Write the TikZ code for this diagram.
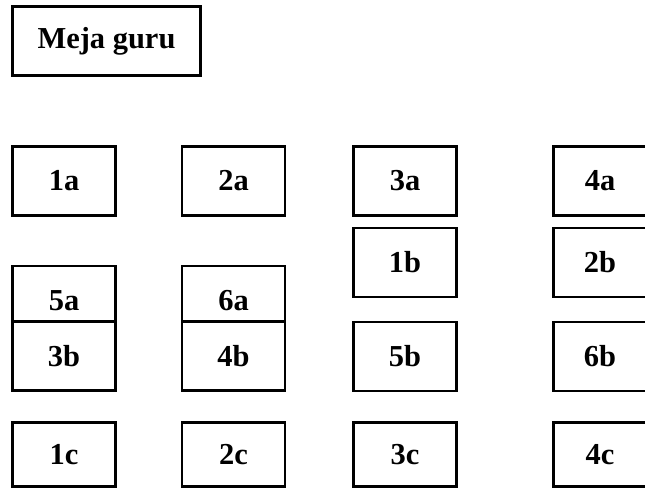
\documentclass[tikz,border=0pt]{standalone}
\usepackage{fontspec}
\setmainfont{Liberation Serif}

\begin{document}
\begin{tikzpicture}[x=0.03cm,y=-0.03cm]
	\tikzset{% This is the style settings for the desks
		mejanode/.style={rectangle,draw=black,fill=white,line width=2.55pt,minimum width=3.09cm,minimum height=2.07cm,inner sep=0pt,font=\fontsize{26}{30}\selectfont\bfseries},
		gurunode/.style={mejanode,minimum width=5.64cm},
		edgenode/.style={mejanode,minimum width=2.79cm},
		lastnode/.style={mejanode,minimum height=1.92cm}}
	\useasboundingbox (0,0) rectangle (645,488);
	\node[gurunode] (guru) at (106.5,41) {Meja guru};

	\node[mejanode] (1a) at (64,181) {1a};
	\node[mejanode] (2a) at (233.5,181) {2a};
	\node[mejanode] (3a) at (405,181) {3a};
	\node[edgenode] (4a) at (600,181) {4a};

	\node[mejanode] (1b) at (405,262.5) {1b};
	\node[edgenode] (2b) at (600,262.5) {2b};

	\node[mejanode] (5a) at (64,300.5) {5a};
	\node[mejanode] (6a) at (233.5,300.5) {6a};

	\node[mejanode] (3b) at (64,356) {3b};
	\node[mejanode] (4b) at (233.5,356) {4b};
	\node[mejanode] (5b) at (405,356.5) {5b};
	\node[edgenode] (6b) at (600,356.5) {6b};

	\node[lastnode] (1c) at (64,454.5) {1c};
	\node[lastnode] (2c) at (233.5,454.5) {2c};
	\node[lastnode] (3c) at (405,454.5) {3c};
	\node[lastnode,minimum width=2.79cm] (4c) at (600,454.5) {4c};
\end{tikzpicture}
\end{document}
